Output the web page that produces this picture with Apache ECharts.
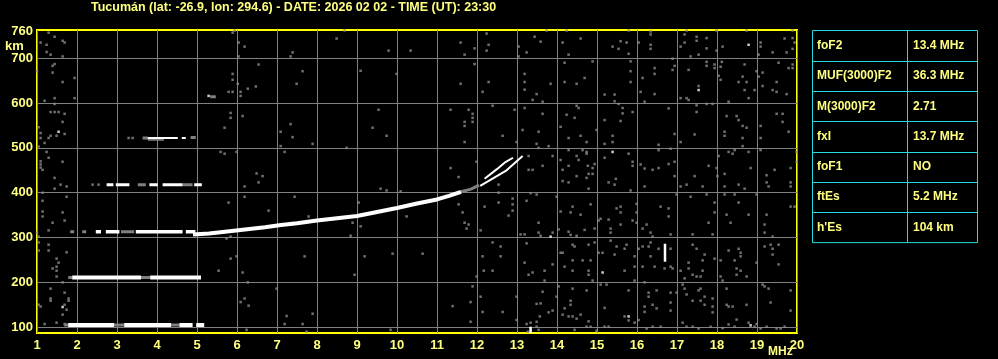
<!DOCTYPE html>
<html><head><meta charset="utf-8">
<script src="https://cdn.jsdelivr.net/npm/echarts@6.0.0/dist/echarts.min.js"></script>
<style>html,body{margin:0;padding:0;background:#000;}#c{width:998px;height:359px;}</style>
</head><body><div id="c"></div>
<script>
const titleText = 'Tucumán (lat: -26.9, lon: 294.6) - DATE: 2026 02 02 - TIME (UT): 23:30';
const freqMin = 1, freqMax = 20;
const heightMin = 87, heightMax = 763;
const heightTicks = [100, 200, 300, 400, 500, 600, 700, 760];
const tableLabels = ['foF2', 'MUF(3000)F2', 'M(3000)F2', 'fxI', 'foF1', 'ftEs', "h'Es"];
const tableValues = ['13.4 MHz', '36.3 MHz', '2.71', '13.7 MHz', 'NO', '5.2 MHz', '104 km'];

// echo traces (MHz, km) as segments
const esTrace = [[[1.78,105],[2.93,105]], [[3.18,105],[4.35,105]], [[4.56,105],[4.89,105]], [[4.98,105],[5.18,105]]];
const trace211 = [[[1.88,211],[3.60,211]], [[3.83,211],[5.10,211]]];
const trace313 = [[[2.47,313],[2.60,313]], [[2.72,313],[3.06,313]], [[3.47,313],[4.64,313]], [[4.72,313],[4.96,313]]];
const trace418 = [[[2.74,418],[2.91,418]], [[2.97,418],[3.31,418]], [[3.81,418],[4.02,418]], [[4.14,418],[4.64,418]], [[4.93,418],[5.12,418]]];
const trace522 = [[[3.77,522],[4.52,522]], [[4.62,522],[4.72,522]]];
const fTrace = [[[4.9,307],[5.3,309],[5.7,313],[6.2,318],[6.7,323],[7.1,328],[7.5,332],[8.0,338],[8.5,343],[9.0,348],[9.5,357],[10.0,366],[10.5,376],[11.0,385],[11.3,393],[11.6,402]]];
const fStrands = [[[12.08,415],[12.4,432],[12.74,450],[13.14,482]], [[12.19,431],[12.49,452],[12.69,467],[12.9,478]]];
const whiteBars = [[[16.7,246],[16.7,286]], [[13.34,87],[13.34,101]]];
const grayTraces = [
  [[1.68,105],[1.78,105]], [[2.93,105],[3.18,105]], [[4.35,105],[4.56,105]],
  [[1.78,211],[1.88,211]], [[3.60,211],[3.83,211]],
  [[1.83,313],[1.93,313]], [[2.13,313],[2.23,313]], [[3.10,313],[3.43,313]],
  [[3.52,418],[3.72,418]], [[4.64,418],[4.89,418]],
  [[3.64,522],[3.77,522]], [[3.77,519],[4.17,519]], [[4.84,523],[4.97,523]],
  [[5.33,614],[5.47,614]],
  [[11.6,402],[11.85,408],[12.05,417]]
];

// scattered noise returns (MHz, km)
const noiseGray = [
[1.29,757],[1.44,748],[1.09,735],[1.24,730],[1.64,739],[1.69,735],[1.24,714],[1.34,708],[1.64,704],[1.44,687],[1.39,683],[1.39,668],[1.0,671],[1.94,656],[1.64,647],[1.19,605],[1.44,611],[1.94,611],[1.44,598],[1.34,580],[1.44,580],[1.54,580],[1.69,576],[1.64,558],[1.04,546],[1.09,533],[1.69,531],[1.49,527],[1.34,527],[1.29,522],[1.09,522],[1.19,511],[1.04,503],[1.24,491],[1.29,478],[1.09,470],[1.09,463],[1.09,456],[1.14,451],[1.64,469],[1.44,433],
[5.94,762],[5.89,757],[6.04,735],[6.19,726],[6.04,704],[6.54,686],[5.89,665],[5.89,652],[6.02,643],[5.79,625],[5.89,625],[6.09,625],[6.09,616],[6.27,632],[6.47,637],[5.84,578],[5.84,567],[6.14,571],[5.69,545],[7.09,536],[7.09,504],[7.19,491],[5.59,491],[5.69,487],[5.99,491],[6.49,443],[6.64,437],[3.29,522],[3.39,522],
[8.69,762],[8.49,744],[7.39,713],[7.34,704],[9.79,717],[10.34,717],[7.64,671],[9.09,672],[7.49,643],[9.99,665],[9.54,585],[9.39,545],[9.74,527],[7.39,524],[7.89,509],[8.74,500],[7.34,553],[11.59,735],[11.69,708],[11.94,722],[12.24,755],[12.29,730],[12.24,717],[11.94,687],[11.59,643],[12.14,625],[12.29,647],[13.04,726],[13.24,713],[13.04,704],[13.44,748],[13.59,737],[13.19,665],[13.19,647],[13.19,630],[13.49,620],[13.39,607],[13.64,603],[12.39,594],[11.34,585],[11.79,585],[11.89,576],[11.89,567],[11.89,558],[11.69,558],[11.69,549],[12.94,585],[13.19,589],[13.64,576],[13.14,540],[13.54,536],[12.64,527],[11.69,513],[12.99,513],[13.49,509],[13.54,500],[11.34,455],[11.54,435],[11.99,469],[13.29,482],[13.39,451],[13.29,451],[13.64,460],
[13.74,762],[14.24,762],[14.59,744],[14.14,735],[14.29,708],[14.19,690],[14.89,693],[14.69,656],[14.49,643],[14.19,647],[13.84,643],[15.19,619],[15.44,619],[15.44,604],[15.59,738],[15.74,735],[15.39,726],[15.54,721],[15.79,710],[15.79,762],[16.34,760],[16.34,753],[16.04,735],[16.34,730],[16.34,721],[16.89,699],[16.94,683],[16.89,674],[16.44,678],[16.44,665],[16.14,656],[16.44,620],[16.09,625],[16.19,603],[15.84,693],[15.84,671],[15.84,647],[17.19,753],[17.24,762],[17.49,748],[17.49,739],[17.74,745],[17.74,722],[17.09,726],[17.19,735],[17.34,704],[17.54,708],[17.74,692],[17.74,683],[17.29,674],[17.54,638],[17.09,611],[17.24,611],[17.29,607],[17.94,686],[17.94,678],[18.12,692],[18.09,681],[18.04,661],[18.09,652],[17.99,717],[18.14,726],[17.99,762],[18.74,762],[19.09,735],[19.09,726],[19.04,708],[19.39,713],[19.69,744],[19.74,713],[19.89,721],[19.89,762],[19.89,745],[19.94,735],[19.54,690],[19.79,678],[19.89,686],[19.89,678],[19.14,668],[19.04,659],[18.99,671],[18.69,686],[18.64,659],[18.54,647],[18.74,647],[18.69,629],[18.79,611],[18.94,629],[19.14,638],[19.39,629],[19.49,647],[19.49,625],[19.74,620],[18.29,603],[17.74,598],[17.89,598],[17.49,595],[17.49,580],[18.24,571],[18.49,571],[18.54,562],[18.64,549],[18.74,545],[18.19,536],[18.19,527],[18.64,522],[18.64,504],[18.79,491],[19.09,549],[19.09,522],[19.09,495],[19.49,576],[19.64,576],[19.64,558],[19.79,536],[19.99,491],[19.99,469],[19.84,455],[19.44,451],[19.24,439],[18.84,455],[18.44,495],[18.39,487],[18.29,491],[18.04,482],[17.99,455],[18.19,442],[18.01,437],[17.79,460],[17.44,530],[17.44,437],[17.09,513],[16.94,531],[16.94,469],[16.94,437],[16.79,464],[16.79,588],[16.54,507],[16.54,455],[16.39,451],[16.84,498],[16.54,495],[16.19,454],[16.09,463],[15.89,469],[15.89,460],[15.79,487],[15.64,589],[15.64,577],[15.59,560],[15.54,598],[15.89,580],[15.19,562],[15.39,527],[15.39,513],[15.19,478],[15.19,509],[14.99,540],[14.74,513],[14.74,491],[14.59,527],[14.49,594],[14.54,589],[14.44,567],[14.24,574],[14.29,522],[14.09,547],[13.79,504],[13.89,482],[14.09,473],[14.29,495],[14.29,460],[14.14,451],[14.49,482],[14.54,473],[14.74,487],[14.77,460],[14.79,442],[14.89,455],[14.89,442],[14.94,464],[14.74,433],[14.49,437],[14.64,495],[15.47,431],
[1.59,418],[1.74,414],[1.44,409],[2.39,418],[2.54,418],[1.14,400],[1.74,391],[1.14,382],[1.14,358],[1.14,347],[1.64,356],[1.69,338],[1.39,333],[1.0,311],[1.29,316],[1.04,302],[1.04,289],[1.04,271],[1.29,284],[1.29,271],[1.74,267],[1.49,253],[1.54,244],[1.49,235],[1.39,231],[1.49,226],[1.49,213],[1.64,200],[1.34,186],[1.69,177],[1.34,164],[1.34,159],[1.79,164],[1.79,159],[1.69,150],[1.74,139],[1.64,128],[1.09,146],[1.04,150],[1.19,107],[1.49,110],[1.69,107],[5.79,378],[6.19,414],[6.19,391],[6.54,423],[6.79,360],[5.84,302],[5.74,298],[5.84,253],[5.99,258],[5.54,226],[6.14,222],[6.27,200],[6.09,156],[6.19,164],[6.29,148],[6.99,186],[7.24,125],[7.19,107],[6.24,94],
[7.44,391],[9.59,409],[9.74,405],[10.09,403],[9.04,378],[7.79,347],[8.89,333],[9.09,325],[8.84,304],[10.24,347],[7.69,258],[9.19,258],[9.89,264],[10.64,264],[8.94,217],[7.89,130],[7.64,107],[7.74,90],[9.84,94],[11.39,147],[11.54,374],[11.64,356],[11.69,333],[11.79,329],[11.74,320],[12.09,316],[12.19,369],[12.54,400],[12.54,378],[12.54,418],[12.89,387],[12.89,374],[12.89,360],[12.79,349],[13.34,399],[13.49,396],[13.24,382],[13.54,333],[13.54,311],[13.09,307],[13.19,307],[13.59,304],[12.39,289],[12.59,280],[12.14,258],[12.59,258],[13.24,287],[13.19,244],[12.17,226],[12.39,226],[11.99,213],[13.39,222],[13.29,217],[11.89,191],[12.09,168],[11.84,156],[12.99,168],[12.14,134],[12.64,134],[11.84,112],[12.99,116],[13.24,107],[13.34,110],[13.49,112],[13.57,124],[13.49,101],[13.54,94],[13.59,153],[13.49,152],[13.64,179],[13.27,90],
[14.14,426],[14.29,423],[14.79,409],[15.29,423],[15.44,418],[15.84,405],[16.19,414],[13.99,391],[14.09,358],[14.34,356],[14.39,369],[14.59,351],[14.84,374],[14.69,317],[14.49,304],[14.04,318],[13.89,311],[14.29,313],[14.34,306],[14.94,320],[15.04,338],[15.09,342],[15.29,340],[15.34,320],[15.34,311],[15.49,365],[15.59,369],[15.59,356],[15.59,329],[15.89,338],[15.99,375],[15.99,356],[15.99,333],[16.14,320],[16.24,329],[16.34,311],[16.39,302],[16.59,369],[16.79,365],[16.79,347],[16.84,307],[16.99,396],[17.09,414],[17.24,418],[17.34,391],[17.64,414],[17.74,396],[17.94,378],[18.19,414],[18.19,396],[18.44,396],[18.54,418],[18.54,378],[18.69,409],[18.99,396],[18.79,351],[18.24,351],[18.34,333],[17.89,307],[17.39,307],[17.79,333],[17.94,356],[19.24,423],[19.29,414],[19.84,423],[19.84,414],[19.84,369],[19.94,369],[19.24,351],[19.19,329],[19.19,311],[19.39,302],
[14.39,284],[14.44,280],[14.79,284],[14.94,289],[15.34,293],[15.49,280],[15.69,275],[15.74,284],[16.14,280],[16.29,280],[16.34,289],[16.54,275],[16.84,275],[14.09,266],[14.14,266],[15.04,266],[15.14,266],[15.44,262],[15.94,258],[16.34,258],[16.04,275],[14.39,249],[14.64,249],[14.84,249],[14.19,235],[14.39,226],[13.89,240],[13.69,226],[14.79,226],[14.79,217],[15.69,226],[15.94,235],[16.14,235],[16.44,235],[16.69,231],[16.84,235],[16.89,231],[17.09,226],[17.29,244],[17.39,284],[17.49,275],[17.69,262],[17.64,249],[17.64,226],[17.49,213],[17.29,231],[17.19,209],[17.39,217],[17.59,213],[17.94,253],[18.09,249],[18.29,271],[18.44,249],[18.54,275],[18.59,266],[18.59,258],[18.49,231],[18.49,217],[18.59,226],[18.74,213],[18.09,213],[18.14,204],[19.19,280],[19.34,284],[19.39,275],[19.54,284],[19.39,262],[19.54,240],[18.99,244],
[13.69,204],[14.04,191],[14.39,186],[14.74,182],[14.89,204],[15.09,195],[15.24,195],[15.79,182],[15.94,204],[16.19,200],[16.29,177],[16.29,168],[16.49,182],[16.39,150],[16.19,146],[16.19,134],[16.49,142],[16.84,177],[16.84,155],[16.84,137],[16.99,177],[17.14,195],[17.19,186],[17.24,173],[17.39,159],[17.54,182],[17.59,186],[17.69,168],[17.59,159],[17.69,150],[17.89,164],[17.89,146],[17.89,133],[18.24,186],[18.24,150],[18.29,146],[18.39,146],[18.74,150],[18.49,117],[18.94,101],[19.14,195],[19.19,191],[19.29,186],[19.34,155],[19.49,97],[19.59,97],[19.69,101],[19.84,182],[19.84,137],[13.99,168],[14.34,159],[14.34,150],[14.19,142],[13.89,137],[13.79,133],[14.14,128],[14.29,124],[14.39,124],[14.49,119],[14.59,128],[14.79,113],[14.44,94],[14.74,101],[14.84,101],[14.99,92],[15.19,101],[15.29,101],[15.19,143],[15.79,115],[15.94,110],[16.04,116],[15.69,124],[16.24,97],[16.39,101],[16.59,101],[17.14,110],[17.24,101],[17.39,101],[17.54,97],[17.84,101],[18.14,98],[18.29,106],[18.44,101],[18.79,110],[18.99,107],[19.09,97],[19.24,101]
];
const noiseWhite = [[1.54,536],[5.29,616],[17.54,629],[18.79,730],[15.39,491],[1.64,145],[13.84,302],[15.14,222],[15.79,124],[18.84,104]];

const TEXT = '#ffff80', AXIS = '#ffff00', GRID = '#808080', CYAN = '#22dddd';
const FONT = 'Liberation Sans';

function flat(segs) {
  const out = [];
  segs.forEach((s, i) => { if (i) out.push(['-', '-']); s.forEach(p => out.push(p)); });
  return out;
}
function lineSeries(segs, color, width) {
  return { type: 'line', data: flat(segs), symbol: 'none', connectNulls: false, silent: true,
    lineStyle: { color: color, width: width, cap: 'butt' }, z: 3, animation: false };
}

const chart = echarts.init(document.getElementById('c'), null, { renderer: 'canvas' });

// table graphic
const tbl = { x: 812.5, y: 30.5, w: 165, rowH: 30.3, colX: 907.5 };
const graphic = [];
graphic.push({ type: 'rect', shape: { x: tbl.x, y: tbl.y, width: tbl.w, height: tbl.rowH * tableLabels.length },
  style: { fill: 'none', stroke: CYAN, lineWidth: 1 } });
graphic.push({ type: 'line', shape: { x1: tbl.colX, y1: tbl.y, x2: tbl.colX, y2: tbl.y + tbl.rowH * tableLabels.length },
  style: { stroke: CYAN, lineWidth: 1 } });
tableLabels.forEach((lab, i) => {
  const yTop = tbl.y + i * tbl.rowH;
  if (i) graphic.push({ type: 'line', shape: { x1: tbl.x, y1: Math.round(yTop) + 0.5, x2: tbl.x + tbl.w, y2: Math.round(yTop) + 0.5 },
    style: { stroke: CYAN, lineWidth: 1 } });
  graphic.push({ type: 'text', x: 817, y: yTop + tbl.rowH / 2, style: { text: lab, fill: TEXT, font: 'bold 12px ' + FONT, textVerticalAlign: 'middle' } });
  graphic.push({ type: 'text', x: 913, y: yTop + tbl.rowH / 2, style: { text: tableValues[i], fill: TEXT, font: 'bold 12px ' + FONT, textVerticalAlign: 'middle' } });
});
graphic.push({ type: 'text', x: 5, y: 46, style: { text: 'km', fill: TEXT, font: 'bold 13px ' + FONT, textVerticalAlign: 'middle' } });
graphic.push({ type: 'text', x: 768, y: 352, style: { text: 'MHz', fill: TEXT, font: 'bold 12px ' + FONT, textVerticalAlign: 'middle' } });

chart.setOption({
  backgroundColor: '#000',
  animation: false,
  title: { text: titleText, left: 91, top: 1, padding: 0,
    textStyle: { color: TEXT, fontSize: 12.5, fontWeight: 'bold', fontFamily: FONT } },
  grid: { left: 37, right: 201, top: 30, bottom: 26, show: true, borderColor: AXIS, borderWidth: 2, backgroundColor: '#000' },
  xAxis: { type: 'value', min: freqMin, max: freqMax, interval: 1,
    axisLine: { show: false }, axisTick: { show: false },
    splitLine: { show: true, lineStyle: { color: GRID, width: 1 } },
    axisLabel: { color: TEXT, fontSize: 13, fontWeight: 'bold', fontFamily: FONT, margin: 6, showMaxLabel: true, showMinLabel: true } },
  yAxis: { type: 'value', min: heightMin, max: heightMax,
    axisLine: { show: false },
    axisTick: { show: false, customValues: heightTicks.slice(0, 7) },
    splitLine: { show: true, lineStyle: { color: GRID, width: 1 } },
    axisLabel: { customValues: heightTicks, color: TEXT, fontSize: 13, fontWeight: 'bold', fontFamily: FONT, margin: 4 } },
  graphic: graphic,
  series: [
    { type: 'scatter', data: noiseGray, symbol: 'rect', symbolSize: 2.5, itemStyle: { color: '#8c8c8c' }, silent: true, z: 2 },
    lineSeries(grayTraces, GRID, 3),
    lineSeries(esTrace, '#ffffff', 4),
    lineSeries(trace211, '#ffffff', 4),
    lineSeries(trace313, '#ffffff', 3.5),
    lineSeries(trace418, '#ffffff', 3),
    lineSeries(trace522, '#ffffff', 2),
    lineSeries(fTrace, '#ffffff', 4),
    lineSeries(fStrands, '#ffffff', 2),
    lineSeries(whiteBars, '#ffffff', 2.5),
    { type: 'scatter', data: noiseWhite, symbol: 'rect', symbolSize: 2.5, itemStyle: { color: '#ffffff' }, silent: true, z: 4 }
  ]
});
</script></body></html>
